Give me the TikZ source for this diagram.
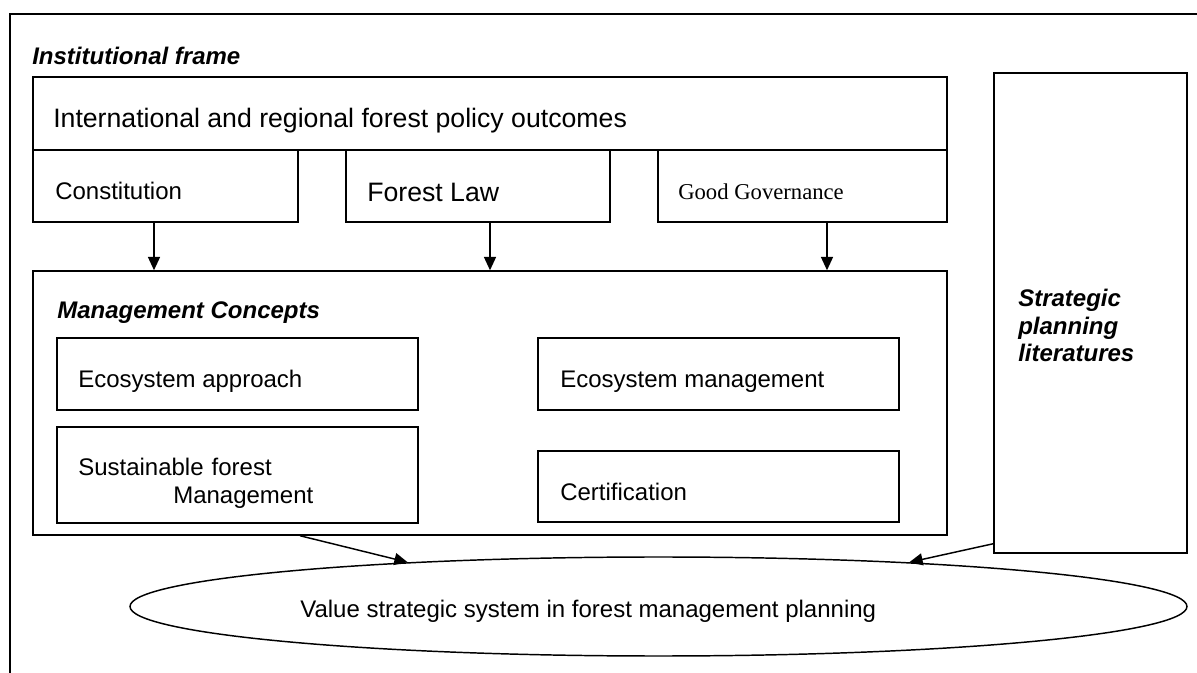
\documentclass[tikz,border=0pt]{standalone}
\usepackage{fontspec}
\setmainfont{Liberation Sans}
\newfontfamily\timesfont{Liberation Serif}
\usetikzlibrary{arrows.meta,shapes.geometric,fit}
\newlength{\px}
\setlength{\px}{0.75pt}

\begin{document}
\begin{tikzpicture}[x=0.75pt,y=-0.75pt,
    box/.style ={draw, line width=1.1pt, inner sep=0pt},
    txt/.style ={inner sep=0pt, anchor=base west, font=\fontsize{18}{20.7}\selectfont},
    bigtxt/.style ={txt, font=\fontsize{20}{24}\selectfont},
    ttl/.style ={txt, font=\fontsize{18}{20.6}\selectfont\bfseries\itshape},
    arr/.style ={-{Triangle[length=10pt,width=9pt]}, line width=1.1pt}]
   \useasboundingbox (0,0) rectangle (1197,673);

   % outer frame
   \draw[line width=1.1pt] (1197,14) -- (10,14) -- (10,673);
   \node[ttl] (inst) at (32,65) {Institutional frame};

   % institutional boxes
   \node[box, fit={(33,77) (947,150)}] (intl) {};
   \node[bigtxt] (intlT) at (53,128) {International and regional forest policy outcomes};
   \node[box, fit={(33,150) (298,222)}] (const) {};
   \node[txt] (constT) at (55,200) {Constitution};
   \node[box, fit={(346,150) (610,222)}] (law) {};
   \node[bigtxt] (lawT) at (367,202) {Forest Law};
   \node[box, fit={(658,150) (947,222)}] (gov) {};
   \node[txt, font=\fontsize{17}{20}\timesfont] (govT) at (678,200) {Good Governance};

   % management concepts
   \node[box, fit={(33,271) (947,535)}] (mgmt) {};
   \node[ttl] (mgmtT) at (57,319) {Management Concepts};
   \node[box, fit={(57,338) (418,410)}] (ecoa) {};
   \node[txt] (ecoaT) at (78,388) {Ecosystem approach};
   \node[box, fit={(538,338) (899,410)}] (ecom) {};
   \node[txt] (ecomT) at (560,388) {Ecosystem management};
   \node[box, fit={(57,427) (418,523)}] (sfm) {};
   \node[txt, text width=8cm, align=left] (sfmT) at (78,476) {Sustainable forest\\\hspace*{95\px}Management};
   \node[box, fit={(538,451) (899,522)}] (cert) {};
   \node[txt] (certT) at (560,501) {Certification};

   % strategic planning
   \node[box, fit={(994,73) (1187,553)}] (strat) {};
   \node[ttl, text width=4cm, align=left] (stratT) at (1018,307) {Strategic\\planning\\literatures};

   % value system
   \node[draw, ellipse, line width=1.1pt, inner sep=0pt, minimum width=1057*\px, minimum height=99*\px] (val) at (658.5,606.5) {};
   \node[txt] (valT) at (300,618) {Value strategic system in forest management planning};

   \draw[arr] (154,0 |- const.south) -- (154,0 |- mgmt.north);
   \draw[arr] (490,0 |- law.south) -- (490,0 |- mgmt.north);
   \draw[arr] (827,0 |- gov.south) -- (827,0 |- mgmt.north);
   \draw[arr] (300,0 |- mgmt.south) -- (val.170);
   \draw[arr] ([yshift=7.5pt]strat.south west) -- (val.10);
\end{tikzpicture}
\end{document}
